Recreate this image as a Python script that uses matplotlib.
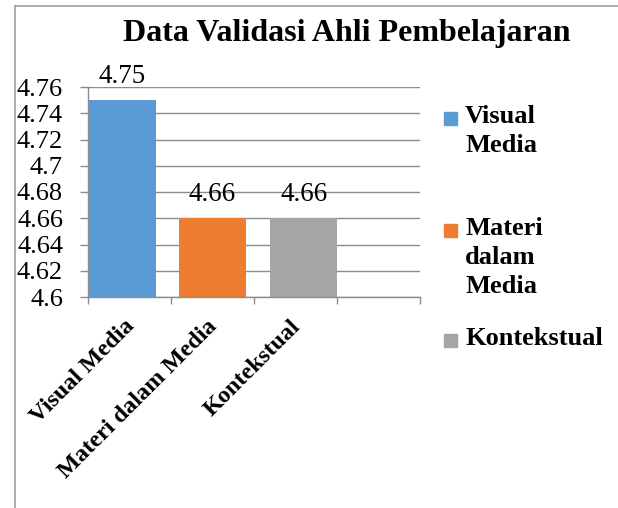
"""
Data Validasi Ahli Pembelajaran - bar chart recreation
"""

import matplotlib
matplotlib.use("Agg")
import matplotlib.pyplot as plt
import matplotlib.transforms as mtransforms
from matplotlib.lines import Line2D
from matplotlib.patches import Rectangle

# ---------------------------------------------------------------------------
# Data
# ---------------------------------------------------------------------------
categories = ["Visual Media", "Materi dalam Media", "Kontekstual"]
legend_labels = [["Visual", "Media"], ["Materi", "dalam", "Media"], ["Kontekstual"]]
values = [4.75, 4.66, 4.66]
y_ticks = [4.6, 4.62, 4.64, 4.66, 4.68, 4.7, 4.72, 4.74, 4.76]
y_tick_labels = ["4.6", "4.62", "4.64", "4.66", "4.68", "4.7", "4.72", "4.74", "4.76"]

# layout (slot units, Excel-like placement)
bar_pos = [0.41, 1.50, 2.60]
label_pos = [0.5, 1.5, 2.5]
bar_width = 0.81
colors = ["#5B9BD5", "#ED7D31", "#A5A5A5"]
grey = "#8c8c8c"

plt.rcParams["font.family"] = ["Liberation Serif", "DejaVu Serif"]

W, H = 618, 508
fig = plt.figure(figsize=(W / 100, H / 100), dpi=100)


def fx(px):
    return px / W


def fy(py):
    return 1 - py / H


ax = fig.add_axes([fx(88), fy(297), fx(420) - fx(88), fy(87) - fy(297)])

ax.bar(bar_pos, values, width=bar_width, color=colors, zorder=2)
ax.set_ylim(4.6, 4.76)
ax.set_xlim(0, 4)

# value labels
for x, v in zip(bar_pos, values):
    ax.annotate(f"{v:.2f}", xy=(x, v), xytext=(0, 12.5), textcoords="offset points",
                ha="center", va="baseline", fontsize=19.5)

# y axis + gridlines
ax.set_yticks(y_ticks)
ax.set_yticklabels(y_tick_labels, fontsize=19)
ax.yaxis.grid(True, color=grey, linewidth=1.0, zorder=0)
ax.set_axisbelow(True)
ax.tick_params(axis="y", length=6, width=1, color=grey, pad=12)

# x axis: slot boundaries as major ticks, category names as minor ticks
ax.set_xticks([0, 1, 2, 3, 4])
ax.set_xticklabels([])
ax.tick_params(axis="x", which="major", length=5, width=1, color=grey)
ax.set_xticks(label_pos, minor=True)
ax.set_xticklabels(categories, minor=True, rotation=45, ha="right",
                   rotation_mode="anchor", fontsize=17.5, fontweight="bold")
ax.tick_params(axis="x", which="minor", length=0, pad=13.5)
shift = mtransforms.ScaledTranslation(-6 / 100, 0, fig.dpi_scale_trans)
for lab in ax.get_xticklabels(minor=True):
    lab.set_transform(lab.get_transform() + shift)

for side in ["top", "right"]:
    ax.spines[side].set_visible(False)
for side in ["left", "bottom"]:
    ax.spines[side].set_color(grey)
    ax.spines[side].set_linewidth(1.0)

# title
fig.text(fx(346.5), fy(41), "Data Validasi Ahli Pembelajaran", ha="center",
         va="baseline", fontsize=23, fontweight="bold")

# legend (Excel-style, each entry in its own vertical slot)
entry_base = [123, 235, 345]
line_step = 29
for lines, col, yb in zip(legend_labels, colors, entry_base):
    fig.patches.append(Rectangle((fx(444), fy(yb + 2)), fx(13), 13 / H,
                                 transform=fig.transFigure, color=col))
    for i, line in enumerate(lines):
        fig.text(fx(465), fy(yb + i * line_step), line, ha="left", va="baseline",
                 fontsize=19, fontweight="bold")

# outer chart frame (cut by the page)
fig.add_artist(Line2D([fx(15), fx(15)], [0, fy(6)], color="#a0a0a0", lw=1.2,
                      transform=fig.transFigure))
fig.add_artist(Line2D([fx(15), 1], [fy(6), fy(6)], color="#a0a0a0", lw=1.2,
                      transform=fig.transFigure))

fig.savefig("out.png", dpi=100)
